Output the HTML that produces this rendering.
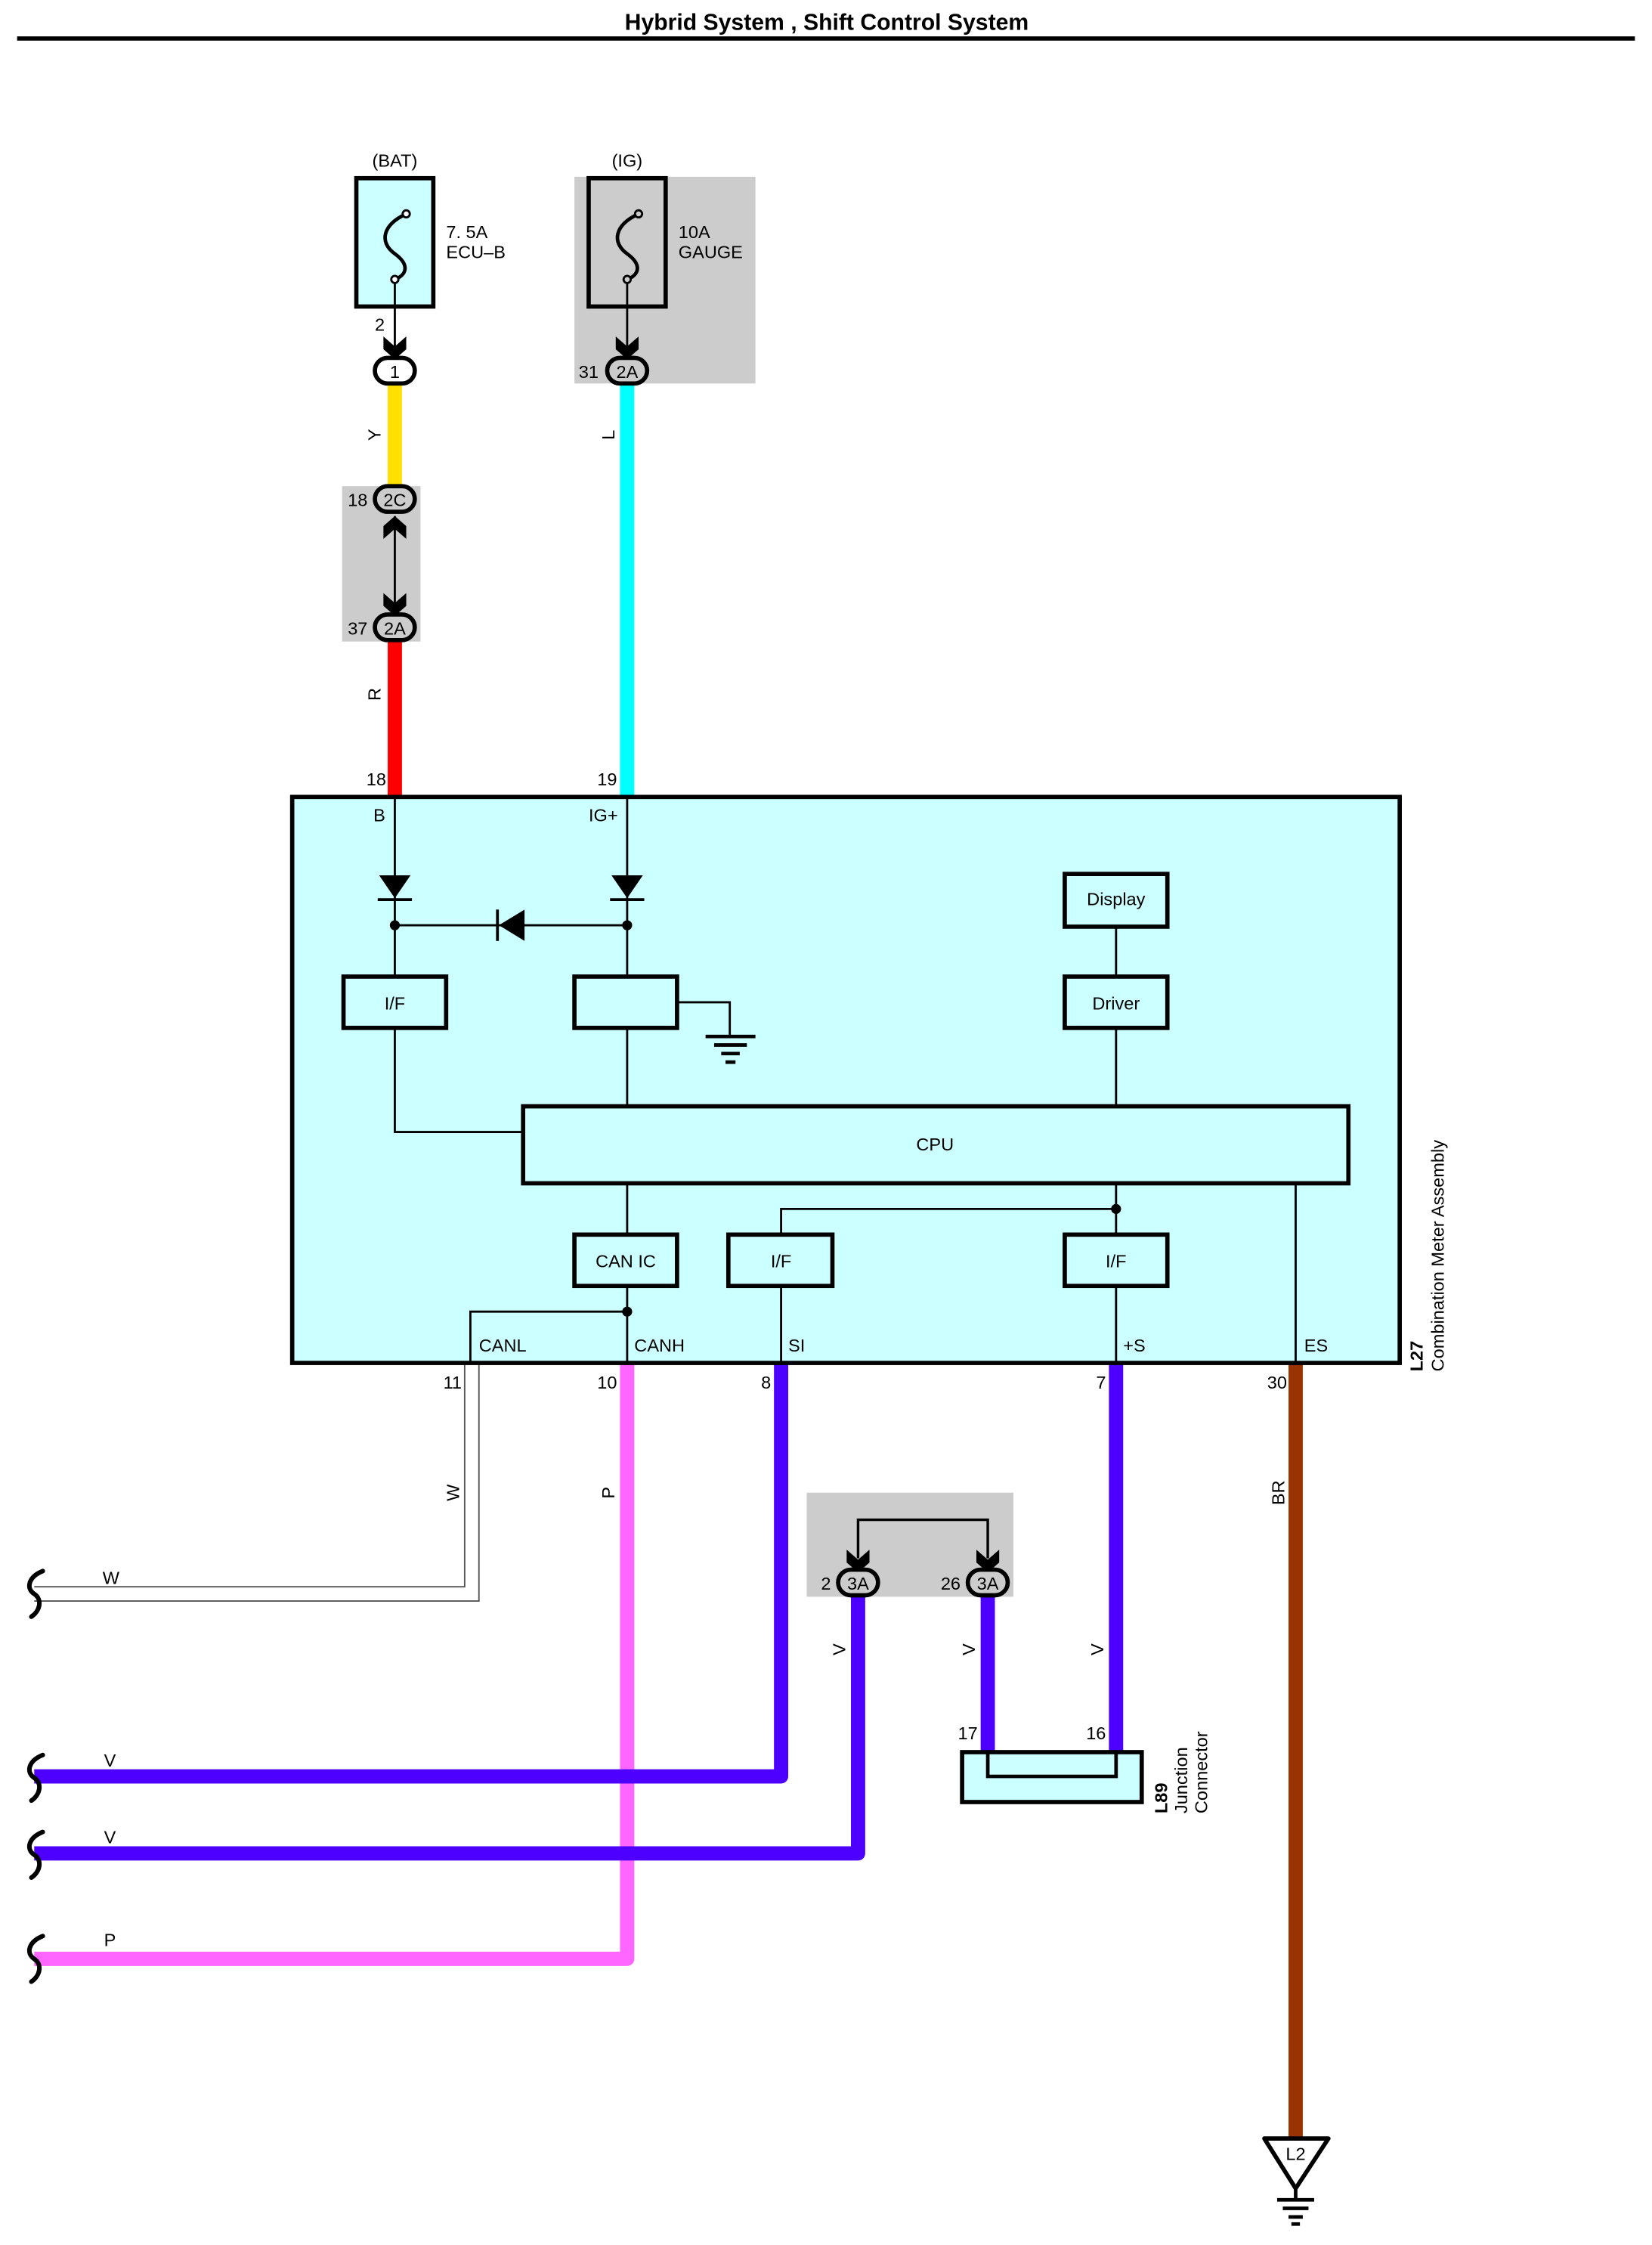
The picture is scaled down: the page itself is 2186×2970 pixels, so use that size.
<!DOCTYPE html>
<html><head><meta charset="utf-8"><style>
html,body{margin:0;padding:0;background:#fff;}
svg{display:block;}
text{font-family:"Liberation Sans",Arial,sans-serif;font-size:12.5px;fill:#000;}
</style></head><body>
<svg width="2186" height="2970" viewBox="0 0 1159 1574.7" preserveAspectRatio="none" xmlns="http://www.w3.org/2000/svg">
<rect x="0" y="0" width="1159" height="1575" fill="#fff"/>
<text x="580" y="21" text-anchor="middle" style="font-size:16px;font-weight:bold">Hybrid System , Shift Control System</text>
<line x1="12" y1="27" x2="1147" y2="27" stroke="#000" stroke-width="3"/>

<rect x="403" y="124" width="127" height="145" fill="#cccccc"/>
<rect x="240" y="341" width="55" height="109" fill="#cccccc"/>
<rect x="566" y="1047" width="145" height="73" fill="#cccccc"/>

<line x1="277" y1="268" x2="277" y2="342" stroke="#ffe000" stroke-width="10"/>
<line x1="277" y1="449" x2="277" y2="558" stroke="#ff0000" stroke-width="10"/>
<line x1="440" y1="268" x2="440" y2="558" stroke="#00ffff" stroke-width="10"/>
<polyline points="326,956 326,1113 24,1113" fill="none" stroke="#555" stroke-width="1"/>
<polyline points="336,956 336,1123 24,1123" fill="none" stroke="#555" stroke-width="1"/>
<polyline points="440,956 440,1374 24,1374" fill="none" stroke="#ff66ff" stroke-width="10" stroke-linejoin="round"/>
<polyline points="548,956 548,1246 24,1246" fill="none" stroke="#4d00ff" stroke-width="10" stroke-linejoin="round"/>
<polyline points="602,1118 602,1300 24,1300" fill="none" stroke="#4d00ff" stroke-width="10" stroke-linejoin="round"/>
<line x1="693" y1="1118" x2="693" y2="1229" stroke="#4d00ff" stroke-width="10"/>
<line x1="783" y1="956" x2="783" y2="1229" stroke="#4d00ff" stroke-width="10"/>
<line x1="909" y1="956" x2="909" y2="1500" stroke="#993300" stroke-width="10"/>

<g fill="none" stroke="#000" stroke-width="3.2" stroke-linecap="round">
<path d="M30,1102 C20,1106 18,1114 24,1118 C30,1122 28,1130 22,1134"/>
<path d="M30,1231 C20,1235 18,1243 24,1247 C30,1251 28,1259 22,1263"/>
<path d="M30,1285 C20,1289 18,1297 24,1301 C30,1305 28,1313 22,1317"/>
<path d="M30,1358 C20,1362 18,1370 24,1374 C30,1378 28,1386 22,1390"/>
</g>
<text x="72" y="1111">W</text>
<text x="73" y="1239">V</text>
<text x="73" y="1293">V</text>
<text x="73" y="1365">P</text>

<text x="277" y="117" text-anchor="middle">(BAT)</text>
<rect x="250" y="125" width="54" height="90" fill="#ccffff" stroke="#000" stroke-width="3"/>
<path d="M285,150 C268,158 266,170 277,178 C288,186 285,193 277,196" fill="none" stroke="#000" stroke-width="2.5"/>
<circle cx="285" cy="150" r="2.5" fill="#fff" stroke="#000" stroke-width="1.5"/>
<circle cx="277" cy="196" r="2.5" fill="#fff" stroke="#000" stroke-width="1.5"/>
<line x1="277" y1="199" x2="277" y2="248" stroke="#000" stroke-width="1.5"/>
<text x="313" y="167">7. 5A</text>
<text x="313" y="181">ECU–B</text>
<text x="263" y="232">2</text>
<polygon points="269,236 277,243 285,236 285,245 277,252 269,245" fill="#000"/>
<rect x="263" y="251" width="28" height="18" rx="9" fill="#fff" stroke="#000" stroke-width="3"/>
<text x="277" y="265" text-anchor="middle">1</text>
<text x="267" y="305" text-anchor="middle" transform="rotate(-90 267 305)">Y</text>

<rect x="263" y="341" width="28" height="18" rx="9" fill="#ccc" stroke="#000" stroke-width="3"/>
<text x="277" y="355" text-anchor="middle">2C</text>
<text x="244" y="355">18</text>
<line x1="277" y1="362" x2="277" y2="428" stroke="#000" stroke-width="1.5"/>
<polygon points="269,378 277,371 285,378 285,369 277,362 269,369" fill="#000"/>
<polygon points="269,416 277,423 285,416 285,425 277,432 269,425" fill="#000"/>
<rect x="263" y="431" width="28" height="18" rx="9" fill="#ccc" stroke="#000" stroke-width="3"/>
<text x="277" y="445" text-anchor="middle">2A</text>
<text x="244" y="445">37</text>
<text x="267" y="487" text-anchor="middle" transform="rotate(-90 267 487)">R</text>
<text x="257" y="551">18</text>

<text x="440" y="117" text-anchor="middle">(IG)</text>
<rect x="413" y="125" width="54" height="90" fill="#cccccc" stroke="#000" stroke-width="3"/>
<path d="M448,150 C431,158 429,170 440,178 C451,186 448,193 440,196" fill="none" stroke="#000" stroke-width="2.5"/>
<circle cx="448" cy="150" r="2.5" fill="#ccc" stroke="#000" stroke-width="1.5"/>
<circle cx="440" cy="196" r="2.5" fill="#ccc" stroke="#000" stroke-width="1.5"/>
<line x1="440" y1="199" x2="440" y2="248" stroke="#000" stroke-width="1.5"/>
<text x="476" y="167">10A</text>
<text x="476" y="181">GAUGE</text>
<polygon points="432,236 440,243 448,236 448,245 440,252 432,245" fill="#000"/>
<rect x="426" y="251" width="28" height="18" rx="9" fill="#ccc" stroke="#000" stroke-width="3"/>
<text x="440" y="265" text-anchor="middle">2A</text>
<text x="406" y="265">31</text>
<text x="431" y="305" text-anchor="middle" transform="rotate(-90 431 305)">L</text>
<text x="419" y="551">19</text>

<rect x="205" y="559" width="777" height="397" fill="#ccffff" stroke="#000" stroke-width="3"/>
<text x="262" y="576">B</text>
<text x="413" y="576">IG+</text>
<g stroke="#000" stroke-width="1.5" fill="none">
<line x1="277" y1="559" x2="277" y2="685"/>
<line x1="440" y1="559" x2="440" y2="685"/>
<line x1="277" y1="649" x2="440" y2="649"/>
<polyline points="277,721 277,794 367,794"/>
<line x1="440" y1="721" x2="440" y2="776"/>
<line x1="783" y1="650" x2="783" y2="685"/>
<line x1="783" y1="721" x2="783" y2="776"/>
<polyline points="475,703 512,703 512,727"/>
<line x1="440" y1="830" x2="440" y2="866"/>
<line x1="783" y1="830" x2="783" y2="866"/>
<polyline points="548,866 548,848 783,848"/>
<line x1="909" y1="830" x2="909" y2="956"/>
<line x1="440" y1="902" x2="440" y2="956"/>
<polyline points="330,956 330,920 440,920"/>
<line x1="548" y1="902" x2="548" y2="956"/>
<line x1="783" y1="902" x2="783" y2="956"/>
</g>
<polygon points="266,614 288,614 277,630" fill="#000"/>
<line x1="265" y1="631" x2="289" y2="631" stroke="#000" stroke-width="2"/>
<polygon points="429,614 451,614 440,630" fill="#000"/>
<line x1="428" y1="631" x2="452" y2="631" stroke="#000" stroke-width="2"/>
<polygon points="368,638 368,660 350,649" fill="#000"/>
<line x1="349" y1="638" x2="349" y2="660" stroke="#000" stroke-width="2"/>
<g fill="#000">
<circle cx="277" cy="649" r="3.5"/><circle cx="440" cy="649" r="3.5"/>
<circle cx="783" cy="848" r="3.5"/><circle cx="440" cy="920" r="3.5"/>
</g>
<g stroke="#000" stroke-width="2.5">
<line x1="495" y1="727" x2="530" y2="727"/>
<line x1="501" y1="733" x2="524" y2="733"/>
<line x1="506" y1="739" x2="519" y2="739"/>
<line x1="509" y1="745" x2="516" y2="745"/>
</g>
<g fill="none" stroke="#000" stroke-width="3">
<rect x="241" y="685" width="72" height="36"/>
<rect x="403" y="685" width="72" height="36"/>
<rect x="747" y="613" width="72" height="37"/>
<rect x="747" y="685" width="72" height="36"/>
<rect x="367" y="776" width="579" height="54"/>
<rect x="403" y="866" width="72" height="36"/>
<rect x="511" y="866" width="73" height="36"/>
<rect x="747" y="866" width="72" height="36"/>
</g>
<text x="277" y="708" text-anchor="middle">I/F</text>
<text x="783" y="635" text-anchor="middle">Display</text>
<text x="783" y="708" text-anchor="middle">Driver</text>
<text x="656" y="807" text-anchor="middle">CPU</text>
<text x="439" y="889" text-anchor="middle">CAN IC</text>
<text x="548" y="889" text-anchor="middle">I/F</text>
<text x="783" y="889" text-anchor="middle">I/F</text>
<text x="336" y="948">CANL</text>
<text x="445" y="948">CANH</text>
<text x="553" y="948">SI</text>
<text x="788" y="948">+S</text>
<text x="915" y="948">ES</text>
<text x="311" y="974">11</text>
<text x="419" y="974">10</text>
<text x="534" y="974">8</text>
<text x="769" y="974">7</text>
<text x="889" y="974">30</text>
<text x="998" y="962" transform="rotate(-90 998 962)" style="font-weight:bold">L27</text>
<text x="1013" y="962" transform="rotate(-90 1013 962)">Combination Meter Assembly</text>

<text x="322" y="1047" text-anchor="middle" transform="rotate(-90 322 1047)">W</text>
<text x="431" y="1047" text-anchor="middle" transform="rotate(-90 431 1047)">P</text>
<text x="901" y="1047" text-anchor="middle" transform="rotate(-90 901 1047)">BR</text>

<polyline points="602,1093 602,1066 693,1066 693,1093" fill="none" stroke="#000" stroke-width="1.8"/>
<polygon points="594,1087 602,1094 610,1087 610,1096 602,1103 594,1096" fill="#000"/>
<polygon points="685,1087 693,1094 701,1087 701,1096 693,1103 685,1096" fill="#000"/>
<rect x="588" y="1101" width="28" height="18" rx="9" fill="#ccc" stroke="#000" stroke-width="3"/>
<text x="602" y="1115" text-anchor="middle">3A</text>
<text x="576" y="1115">2</text>
<rect x="679" y="1101" width="28" height="18" rx="9" fill="#ccc" stroke="#000" stroke-width="3"/>
<text x="693" y="1115" text-anchor="middle">3A</text>
<text x="660" y="1115">26</text>
<text x="593" y="1157" text-anchor="middle" transform="rotate(-90 593 1157)">V</text>
<text x="684" y="1157" text-anchor="middle" transform="rotate(-90 684 1157)">V</text>
<text x="774" y="1157" text-anchor="middle" transform="rotate(-90 774 1157)">V</text>

<rect x="675" y="1229" width="126" height="35" fill="#ccffff" stroke="#000" stroke-width="3"/>
<polyline points="693,1229 693,1246 783,1246 783,1229" fill="none" stroke="#000" stroke-width="2.5"/>
<text x="672" y="1220">17</text>
<text x="762" y="1220">16</text>
<text x="819" y="1272" transform="rotate(-90 819 1272)" style="font-weight:bold">L89</text>
<text x="833" y="1272" transform="rotate(-90 833 1272)">Junction</text>
<text x="847" y="1272" transform="rotate(-90 847 1272)">Connector</text>

<polygon points="887,1500 932,1500 909,1535" fill="#fff" stroke="#000" stroke-width="3" stroke-linejoin="round"/>
<text x="909" y="1515" text-anchor="middle">L2</text>
<g stroke="#000" stroke-width="2.5">
<line x1="909" y1="1535" x2="909" y2="1542"/>
<line x1="896" y1="1543" x2="922" y2="1543"/>
<line x1="900" y1="1549" x2="918" y2="1549"/>
<line x1="904" y1="1555" x2="914" y2="1555"/>
<line x1="906" y1="1560" x2="912" y2="1560"/>
</g>
</svg>
</body></html>
